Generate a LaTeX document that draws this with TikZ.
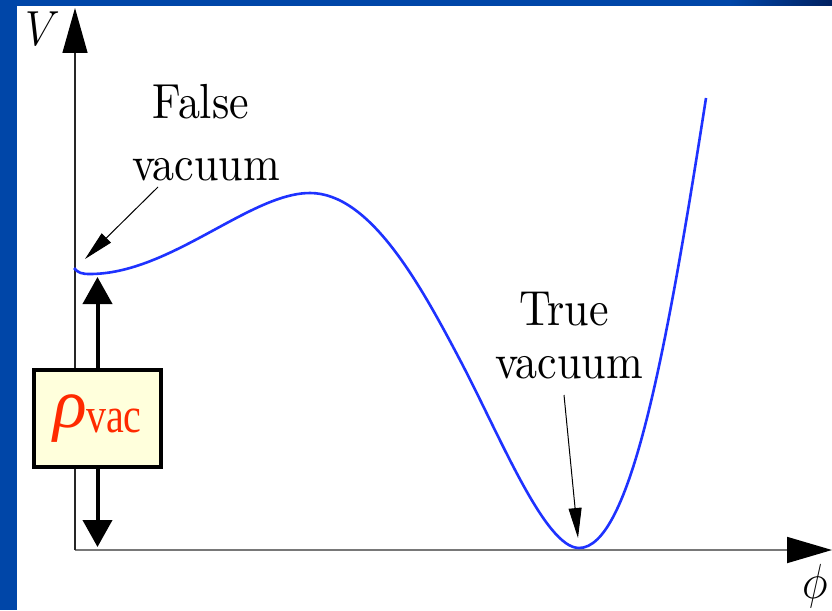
\RequirePackage{fix-cm}
\documentclass[tikz,border=0pt]{standalone}
\usepackage{fontspec}
\usepackage{graphicx}
\usetikzlibrary{arrows.meta}
\newfontfamily\rhofont{Liberation Serif}
\newfontfamily\lmten{lmroman10-regular.otf}
\definecolor{bandblue}{RGB}{0,70,168}
\definecolor{bandnavy}{RGB}{0,32,96}
\definecolor{curveblue}{RGB}{30,50,255}
\definecolor{boxfill}{RGB}{255,255,220}
\definecolor{rhored}{RGB}{255,42,0}
\definecolor{axisgray}{RGB}{120,120,120}
\newcommand{\vstr}[1]{\scalebox{1}[1.12]{#1}}
\tikzset{
  lbl/.style={inner sep=0pt, anchor=base, font=\lmten\fontsize{44}{48}\selectfont},
  curve/.style={draw=curveblue, line width=2.6pt, line join=round},
  pointer/.style={draw=black, line width=1pt, -{Triangle[length=30pt,width=13pt]}},
  bigarrow/.style={draw=black, line width=4pt, -{Triangle[length=27pt,width=29pt]}},
  yaxisline/.style={draw=black!85, line width=1.3pt, -{Triangle[length=45pt,width=25pt,color=black]}},
  xaxisline/.style={draw=axisgray, line width=1.8pt, -{Triangle[length=45pt,width=26pt,color=black]}},
  rhobox/.style={draw=black, line width=4pt, fill=boxfill, minimum width=127pt, minimum height=97pt, inner sep=0pt}
}
\begin{document}
\begin{tikzpicture}[x=1pt, y=-1pt]
\useasboundingbox (0,0) rectangle (832,610);
% slide border
\fill[white] (0,0) rectangle (832,610);
\fill[bandblue] (0,0) rectangle (17,610);
\fill[bandblue] (0,0) rectangle (730,6);
\shade[left color=bandblue, right color=bandnavy] (729.5,0) rectangle (832,6);
% axes
\coordinate (O) at (75,550);
\coordinate (ytip) at (75,8);
\coordinate (xtip) at (832,550);
\draw[xaxisline] (O) -- (xtip);
\draw[yaxisline] (O) -- (ytip);
\node (V) at (43,29) {\vstr{\fontsize{44}{44}\selectfont$V$}};
\node (phi) at (815,586) {\vstr{\fontsize{44}{44}\selectfont$\phi$}};
% potential
\draw[curve] (74,268) .. controls (78,273) and (82,274) .. (90,274)
  .. controls (170,274) and (250,193) .. (310,193)
  .. controls (370,193) and (420,284) .. (460,360)
  .. controls (500,436) and (545,548) .. (579,548)
  .. controls (630,548) and (666,355) .. (706,98);
% labels
\node[lbl] (fv1) at (201,118) {\vstr{False}};
\node[lbl] (fv2) at (206,180) {\vstr{vacuum}};
\node[lbl] (tv1) at (564,325) {\vstr{True}};
\node[lbl] (tv2) at (569,378) {\vstr{vacuum}};
\coordinate (fvs) at (158,187);
\coordinate (fvt) at (85,259);
\coordinate (tvs) at (564,395);
\coordinate (tvt) at (578,538);
\draw[pointer] (fvs) -- (fvt);
\draw[pointer] (tvs) -- (tvt);
% rho box
\node[rhobox] (rho) at (97.5,418.5) {\color{rhored}\rhofont\fontsize{70}{70}\selectfont\itshape ρ\kern-1pt\fontsize{40}{40}\selectfont\upshape\raisebox{-0.3ex}{\scalebox{1}[1.25]{vac}}};
\coordinate (rtop) at (97.5,277);
\coordinate (rbot) at (97.5,547);
\draw[bigarrow] (rho.north) -- (rtop);
\draw[bigarrow] (rho.south) -- (rbot);
\end{tikzpicture}
\end{document}
